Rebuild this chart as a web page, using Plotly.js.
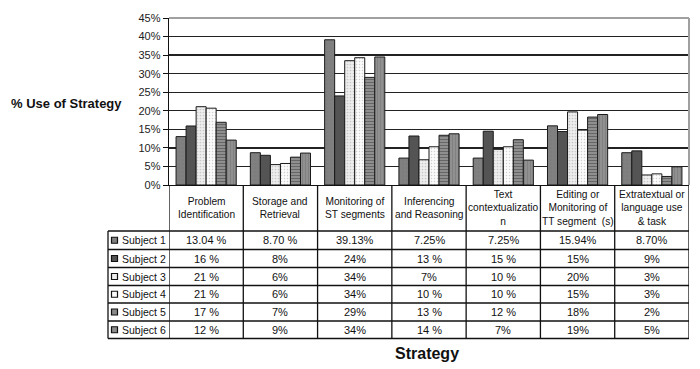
<!DOCTYPE html>
<html><head><meta charset="utf-8">
<script src="https://cdn.plot.ly/plotly-3.0.1.min.js"></script>
<style>body{margin:0;background:#fff}#c{width:700px;height:369px}</style>
</head><body><div id="c"></div>
<script>
// ---- data ----
const categories = ['Problem<br>Identification', 'Storage and<br>Retrieval', 'Monitoring of<br>ST segments',
  'Inferencing<br>and Reasoning', 'Text<br>contextualizatio<br>n', 'Editing or<br>Monitoring of<br>TT segment  (s)',
  'Extratextual or<br>language use<br>& task'];
const subjects = ['Subject 1', 'Subject 2', 'Subject 3', 'Subject 4', 'Subject 5', 'Subject 6'];
// bar heights (% use of strategy)
const subject1 = [13.04, 8.70, 39.13, 7.25, 7.25, 15.94, 8.70];
const subject2 = [15.9, 8.0, 24.0, 13.2, 14.5, 14.4, 9.2];
const subject3 = [21.1, 5.5, 33.5, 6.8, 9.6, 19.7, 2.7];
const subject4 = [20.7, 5.8, 34.3, 10.3, 10.3, 14.8, 3.0];
const subject5 = [16.9, 7.5, 29.0, 13.4, 12.2, 18.3, 2.3];
const subject6 = [12.1, 8.6, 34.5, 13.8, 6.7, 19.0, 4.9];
// data table text
const table1 = ['13.04 %', '8.70 %', '39.13%', '7.25%', '7.25%', '15.94%', '8.70%'];
const table2 = ['16 %', '8%', '24%', '13 %', '15 %', '15%', '9%'];
const table3 = ['21 %', '6%', '34%', '7%', '10 %', '20%', '3%'];
const table4 = ['21 %', '6%', '34%', '10 %', '10 %', '15%', '3%'];
const table5 = ['17 %', '7%', '29%', '13 %', '12 %', '18%', '2%'];
const table6 = ['12 %', '9%', '34%', '14 %', '7%', '19%', '5%'];
const yTicks = [0, 5, 10, 15, 20, 25, 30, 35, 40, 45];

// ---- styling ----
const series = [subject1, subject2, subject3, subject4, subject5, subject6];
const tables = [table1, table2, table3, table4, table5, table6];
const styles = [
  {bg: '#808080', pat: {shape: '.', fgcolor: '#777', bgcolor: '#808080', size: 4, solidity: 0.1}},
  {bg: '#545454', pat: {shape: '', fgcolor: '#545454', bgcolor: '#545454'}},
  {bg: '#eeeeee', pat: {shape: '.', fgcolor: '#c8c8c8', bgcolor: '#eeeeee', size: 3, solidity: 0.25}},
  {bg: '#fbfbfb', pat: {shape: '.', fgcolor: '#d0d0d0', bgcolor: '#fbfbfb', size: 3, solidity: 0.2}},
  {bg: '#8a8a8a', pat: {shape: '-', fgcolor: '#666', bgcolor: '#8f8f8f', size: 3, solidity: 0.35}},
  {bg: '#8c8c8c', pat: {shape: '|', fgcolor: '#7f7f7f', bgcolor: '#909090', size: 3, solidity: 0.3}}
];
const FONT = 'Liberation Sans, Arial, sans-serif';
const xs = categories.map((c, i) => i);

const traces = series.map((vals, k) => ({
  type: 'bar', x: xs, y: vals, name: subjects[k],
  marker: {color: styles[k].bg, pattern: styles[k].pat, line: {color: '#1a1a1a', width: 1}},
  hoverinfo: 'skip'
}));

// pixel helpers (plot area: x 169..689, y 18..185)
const L = 169, R = 689, T = 18, B = 185;
const px = x => (x - L) / (R - L);
const py = y => (B - y) / (B - T);

const rowLines = [231, 249.5, 267.5, 285.5, 303, 321, 338.5];
const shapes = [];
const annotations = [];
const lineStyle = {color: '#111', width: 1.3};
// table horizontal lines
rowLines.forEach(y => shapes.push({type: 'line', xref: 'paper', yref: 'paper',
  x0: px(108), x1: px(689), y0: py(y), y1: py(y), line: lineStyle}));
// table vertical lines at category boundaries
for (let i = 0; i <= categories.length; i++) {
  shapes.push({type: 'line', xref: 'x', yref: 'paper', x0: i - 0.5, x1: i - 0.5,
    y0: py(B), y1: py(rowLines[rowLines.length - 1]), line: lineStyle});
}
// left border of legend column
shapes.push({type: 'line', xref: 'paper', yref: 'paper', x0: px(108), x1: px(108),
  y0: py(rowLines[0]), y1: py(rowLines[rowLines.length - 1]), line: lineStyle});
// gray plot frame top and right
shapes.push({type: 'line', xref: 'paper', yref: 'paper', x0: 0, x1: 1, y0: 1, y1: 1, line: {color: '#a0a0a0', width: 2}});
shapes.push({type: 'line', xref: 'paper', yref: 'paper', x0: 1, x1: 1, y0: 0, y1: 1, line: {color: '#a0a0a0', width: 2}});

// header labels
categories.forEach((c, i) => annotations.push({xref: 'x', yref: 'paper', x: i, y: py(208),
  text: c, showarrow: false, font: {family: FONT, size: 10.2, color: '#111'}, align: 'center',
  xanchor: 'center', yanchor: 'middle'}));
// rows
tables.forEach((row, k) => {
  const yc = (rowLines[k] + rowLines[k + 1]) / 2;
  shapes.push({type: 'rect', xref: 'paper', yref: 'paper', x0: px(111.5), x1: px(117.5),
    y0: py(yc + 3), y1: py(yc - 3), fillcolor: styles[k].bg, line: {color: '#111', width: 1.2}});
  annotations.push({xref: 'paper', yref: 'paper', x: px(119.5), y: py(yc), text: subjects[k],
    showarrow: false, font: {family: FONT, size: 10.5, color: '#111'}, xanchor: 'left', yanchor: 'middle'});
  row.forEach((t, i) => annotations.push({xref: 'x', yref: 'paper', x: i, y: py(yc), text: t,
    showarrow: false, font: {family: FONT, size: 11, color: '#111'}, xanchor: 'center', yanchor: 'middle'}));
});
// axis titles
annotations.push({xref: 'paper', yref: 'paper', x: px(66), y: py(103), text: '<b>% Use of Strategy</b>',
  showarrow: false, font: {family: FONT, size: 13, color: '#111'}, xanchor: 'center', yanchor: 'middle'});
annotations.push({xref: 'paper', yref: 'paper', x: px(427), y: py(353), text: '<b>Strategy</b>',
  showarrow: false, font: {family: FONT, size: 16, color: '#111'}, xanchor: 'center', yanchor: 'middle'});

const layout = {
  width: 700, height: 369,
  margin: {l: L, r: 700 - R, t: T, b: 369 - B, pad: 0},
  paper_bgcolor: '#fff', plot_bgcolor: '#fff',
  showlegend: false,
  barmode: 'group', bargap: 0.19, bargroupgap: 0,
  font: {family: FONT, size: 11, color: '#111'},
  xaxis: {range: [-0.5, categories.length - 0.5], showticklabels: false, ticks: '', showgrid: false,
    zeroline: false, showline: true, linecolor: '#111', linewidth: 1.3, fixedrange: true},
  yaxis: {range: [0, 45], tickvals: yTicks, ticktext: yTicks.map(v => v + '%'),
    ticks: 'outside', ticklen: 5, tickcolor: '#111', tickwidth: 1,
    showline: true, linecolor: '#111', linewidth: 1.3, showgrid: true, gridcolor: '#222', gridwidth: 1.3,
    zeroline: false, tickfont: {family: FONT, size: 11, color: '#222'}, fixedrange: true},
  shapes: shapes, annotations: annotations
};
Plotly.newPlot('c', traces, layout, {staticPlot: true, displayModeBar: false});
</script></body></html>
